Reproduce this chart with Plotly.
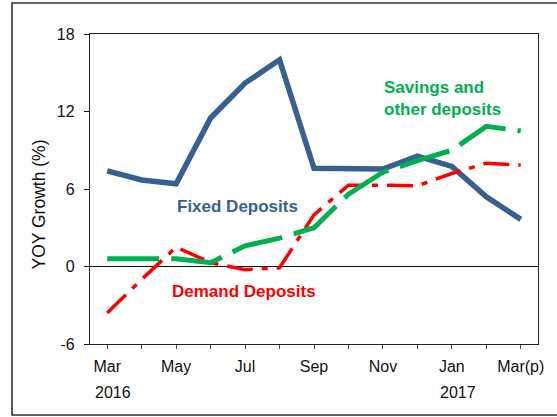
import plotly.graph_objects as go

months = ["Mar 2016", "Apr 2016", "May 2016", "Jun 2016", "Jul 2016", "Aug 2016",
          "Sep 2016", "Oct 2016", "Nov 2016", "Dec 2016", "Jan 2017", "Feb 2017", "Mar 2017"]
tick_text = ["Mar", "", "May", "", "Jul", "", "Sep", "", "Nov", "", "Jan", "", "Mar(p)"]
fixed = [7.4, 6.7, 6.4, 11.5, 14.2, 16.0, 7.6, 7.55, 7.55, 8.55, 7.75, 5.4, 3.65]
savings = [0.6, 0.6, 0.6, 0.3, 1.6, 2.2, 3.0, 5.6, 7.3, 8.2, 9.0, 10.85, 10.5]
demand = [-3.6, -1.0, 1.5, 0.3, -0.25, -0.1, 4.0, 6.3, 6.3, 6.25, 7.2, 8.0, 7.85]
y_ticks = [-6, 0, 6, 12, 18]
y_tick_text = ["-6", "0", "6", "12", "18"]
years = [("Mar 2016", "2016"), ("Jan 2017", "2017")]

BLUE = "#375F91"
GREEN = "#00B050"
RED = "#FF0000"
FONT = "Liberation Sans, Arial, sans-serif"

fig = go.Figure()
fig.add_trace(go.Scatter(x=months, y=fixed, mode="lines",
                         line=dict(color=BLUE, width=5.5), name="Fixed Deposits"))
fig.add_trace(go.Scatter(x=months, y=demand, mode="lines",
                         line=dict(color=RED, width=3.5, dash="26px,9px,6px,9px"),
                         name="Demand Deposits"))
fig.add_trace(go.Scatter(x=months, y=savings, mode="lines",
                         line=dict(color=GREEN, width=5, dash="52px,12px"),
                         name="Savings and other deposits"))

fig.update_layout(
    width=557, height=417,
    margin=dict(l=90, r=19, t=34, b=73),
    paper_bgcolor="white", plot_bgcolor="white",
    showlegend=False,
    font=dict(family=FONT, size=16, color="#111"),
    xaxis=dict(type="category", categoryorder="array", categoryarray=months,
               range=[-0.5, 12.5], tickmode="array", tickvals=months, ticktext=tick_text,
               ticks="outside", ticklen=4, tickcolor="#444", tickwidth=1.2,
               showline=True, linecolor="#222", linewidth=1.3, mirror=True, showgrid=False,
               zeroline=False, ticklabelstandoff=4,
               tickfont=dict(family=FONT, size=16, color="#111")),
    yaxis=dict(range=[-6, 18], tickmode="array", tickvals=y_ticks, ticktext=y_tick_text,
               ticks="outside", ticklen=5, tickcolor="#111", tickwidth=1.2,
               showline=True, linecolor="#222", linewidth=1.3, mirror=True, showgrid=False,
               zeroline=True, zerolinecolor="#111", zerolinewidth=1.2,
               ticklabelstandoff=6,
               tickfont=dict(family=FONT, size=16, color="#111")),
    xaxis2=dict(overlaying="x", anchor="y", side="bottom", range=[-0.5, 12.5],
                tickmode="linear", tick0=0, dtick=1, ticks="inside", ticklen=4,
                tickcolor="#444", tickwidth=1.2, showticklabels=False,
                showline=False, showgrid=False, zeroline=False),
    yaxis2=dict(overlaying="y", anchor="x", side="left", range=[-6, 18],
                tickmode="array", tickvals=y_ticks, ticks="inside", ticklen=5,
                tickcolor="#111", tickwidth=1.2, showticklabels=False,
                showline=False, showgrid=False, zeroline=False),
)

shapes = [
    dict(type="rect", xref="paper", yref="paper", x0=-0.1741, x1=1.2, y0=-0.229, y1=1.1,
         line=dict(color="#333", width=1.6)),
]
fig.update_layout(shapes=shapes)

annotations = [
    dict(text="YOY Growth (%)", xref="paper", yref="paper", x=-0.116, y=0.45,
         textangle=-90, showarrow=False, font=dict(family=FONT, size=17.5, color="#111"),
         xanchor="center", yanchor="middle"),
    dict(text="<b>Fixed Deposits</b>", xref="paper", yref="paper", x=0.330, y=0.445,
         xanchor="center", yanchor="middle",
         showarrow=False, font=dict(family=FONT, size=17, color=BLUE)),
    dict(text="<b>Demand Deposits</b>", xref="paper", yref="paper", x=0.344, y=0.169,
         xanchor="center", yanchor="middle",
         showarrow=False, font=dict(family=FONT, size=17, color=RED)),
    dict(text="<b>Savings and<br>other deposits</b>", xref="paper", yref="paper",
         x=0.652, y=0.792, xanchor="left", yanchor="middle", align="left",
         showarrow=False, font=dict(family=FONT, size=17, color=GREEN)),
]
for xcat, label in years:
    annotations.append(dict(text=label, xref="x", yref="paper", x=xcat, y=-0.155,
                            xshift=6, xanchor="center", yanchor="middle", showarrow=False,
                            font=dict(family=FONT, size=16, color="#111")))
fig.update_layout(annotations=annotations)

fig.write_html("out.html", config={"displayModeBar": False},
               post_script="document.body.style.margin='0';document.body.style.padding='0';")
